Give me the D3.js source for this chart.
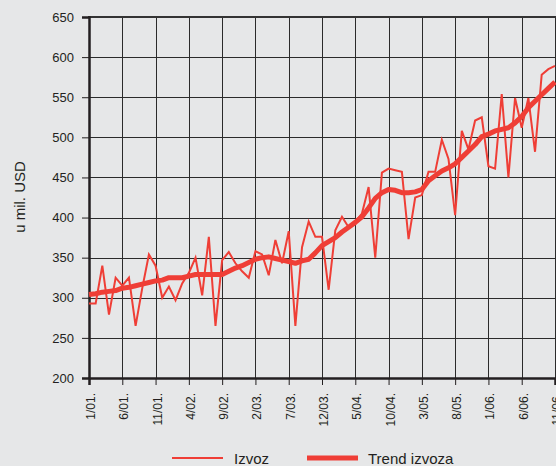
<!DOCTYPE html>
<html>
<head>
<meta charset="utf-8">
<script src="https://cdn.jsdelivr.net/npm/d3@7"></script>
<style>
  html, body { margin: 0; padding: 0; background: #e6e7e8; }
  svg { display: block; font-family: "Liberation Sans", Arial, Helvetica, sans-serif; }
</style>
</head>
<body>
<svg id="chart"></svg>
<script>
// monthly export, Jan 2001 - Nov 2006 (u mil. USD)
const izvoz = [
  293, 293, 340, 279, 325, 315, 325, 265, 312, 354, 340, 300,
  314, 297, 318, 331, 350, 303, 376, 265, 347, 357, 343, 333,
  325, 358, 354, 328, 372, 343, 383, 265, 363, 395, 376, 376,
  310, 384, 401, 388, 395, 405, 438, 350, 456, 461, 459, 457,
  373, 425, 428, 457, 457, 497, 473, 403, 508, 485, 521, 525,
  464, 461, 554, 450, 549, 512, 549, 482, 578, 585, 589
];
const trend = [
  304, 305, 307, 308, 309, 312, 313, 315, 317, 319, 321, 322,
  325, 325, 325, 327, 329, 329, 329, 329, 329, 333, 337, 340,
  344, 348, 350, 351, 349, 347, 345, 343, 346, 348, 356, 365,
  370, 375, 382, 388, 394, 401, 412, 424, 431, 435, 434, 431,
  431, 432, 435, 446, 452, 458, 462, 467, 475, 483, 491, 501,
  504, 508, 510, 512, 518, 526, 537, 545, 553, 561, 569
];
const tickIndex = [0, 5, 10, 15, 20, 25, 30, 35, 40, 45, 50, 55, 60, 65, 70];
const tickLabels = ["1/01.", "6/01.", "11/01.", "4/02.", "9/02.", "2/03.", "7/03.",
  "12/03.", "5/04.", "10/04.", "3/05.", "8/05.", "1/06.", "6/06.", "11/06."];
const yTicks = [200, 250, 300, 350, 400, 450, 500, 550, 600, 650];
const legendNames = ["Izvoz", "Trend izvoza"];

const W = 556, H = 466;
const plotLeft = 89, plotRight = 555, plotTop = 17, plotBottom = 378;
const red = "#ef3e36";
const ink = "#231f20";

const svg = d3.select("#chart")
    .attr("width", W)
    .attr("height", H);

const x = d3.scaleLinear().domain([0, izvoz.length - 1]).range([plotLeft, plotRight]);
const y = d3.scaleLinear().domain([200, 650]).range([plotBottom, plotTop]);

// horizontal grid
svg.append("g")
    .selectAll("line")
    .data(yTicks.slice(1, -1))
    .enter()
    .append("line")
    .attr("x1", plotLeft)
    .attr("x2", plotRight + 1)
    .attr("y1", function(d) { return Math.round(y(d)) + 0.5; })
    .attr("y2", function(d) { return Math.round(y(d)) + 0.5; })
    .attr("stroke", "#2b2b2b")
    .attr("stroke-width", 1);

// vertical grid
svg.append("g")
    .selectAll("line")
    .data(tickIndex.slice(1))
    .enter()
    .append("line")
    .attr("x1", function(d) { return Math.round(x(d)) + 0.5; })
    .attr("x2", function(d) { return Math.round(x(d)) + 0.5; })
    .attr("y1", plotTop)
    .attr("y2", plotBottom)
    .attr("stroke", "#2b2b2b")
    .attr("stroke-width", 1);

// top border
svg.append("line")
    .attr("x1", plotLeft - 1).attr("x2", W)
    .attr("y1", plotTop).attr("y2", plotTop)
    .attr("stroke", "#333").attr("stroke-width", 2);

// y axis
const yAxis = d3.axisLeft(y)
    .tickValues(yTicks)
    .tickSize(7)
    .tickPadding(8)
    .tickFormat(d3.format("d"));
const gy = svg.append("g")
    .attr("transform", "translate(" + plotLeft + ",0)")
    .call(yAxis);
gy.select(".domain").attr("stroke", ink).attr("stroke-width", 2.5);
gy.selectAll(".tick line").attr("stroke", ink);
gy.selectAll("text")
    .attr("fill", ink)
    .style("font-size", "13px");

// x axis
const xAxis = d3.axisBottom(x)
    .tickValues(tickIndex)
    .tickSize(7)
    .tickFormat(function(d, i) { return tickLabels[i]; });
const gx = svg.append("g")
    .attr("transform", "translate(0," + plotBottom + ")")
    .call(xAxis);
gx.select(".domain").attr("stroke", ink).attr("stroke-width", 2.5);
gx.selectAll(".tick line").attr("stroke", ink);
gx.selectAll("text")
    .attr("fill", ink)
    .style("font-size", "12px")
    .attr("text-anchor", "end")
    .attr("x", 0)
    .attr("y", 0)
    .attr("dy", "5.5px")
    .attr("transform", "translate(0,15) rotate(-90)");

// y title
svg.append("text")
    .attr("transform", "translate(25,197) rotate(-90)")
    .attr("text-anchor", "middle")
    .attr("fill", ink)
    .style("font-size", "15px")
    .text("u mil. USD");

// series
const line = d3.line()
    .x(function(d, i) { return x(i); })
    .y(function(d) { return y(d); });

svg.append("path")
    .datum(izvoz)
    .attr("d", line)
    .attr("fill", "none")
    .attr("stroke", red)
    .attr("stroke-width", 2);

svg.append("path")
    .datum(trend)
    .attr("d", line)
    .attr("fill", "none")
    .attr("stroke", red)
    .attr("stroke-width", 5)
    .attr("stroke-linejoin", "round");

// legend
const legend = svg.append("g")
    .selectAll("g")
    .data(legendNames)
    .enter()
    .append("g");

legend.append("line")
    .attr("x1", function(d, i) { return i === 0 ? 172 : 307; })
    .attr("x2", function(d, i) { return i === 0 ? 223 : 358; })
    .attr("y1", 458)
    .attr("y2", 458)
    .attr("stroke", red)
    .attr("stroke-width", function(d, i) { return i === 0 ? 2 : 5; });

legend.append("text")
    .attr("x", function(d, i) { return i === 0 ? 234 : 368; })
    .attr("y", 464)
    .attr("fill", ink)
    .style("font-size", "15px")
    .text(function(d) { return d; });
</script>
</body>
</html>
